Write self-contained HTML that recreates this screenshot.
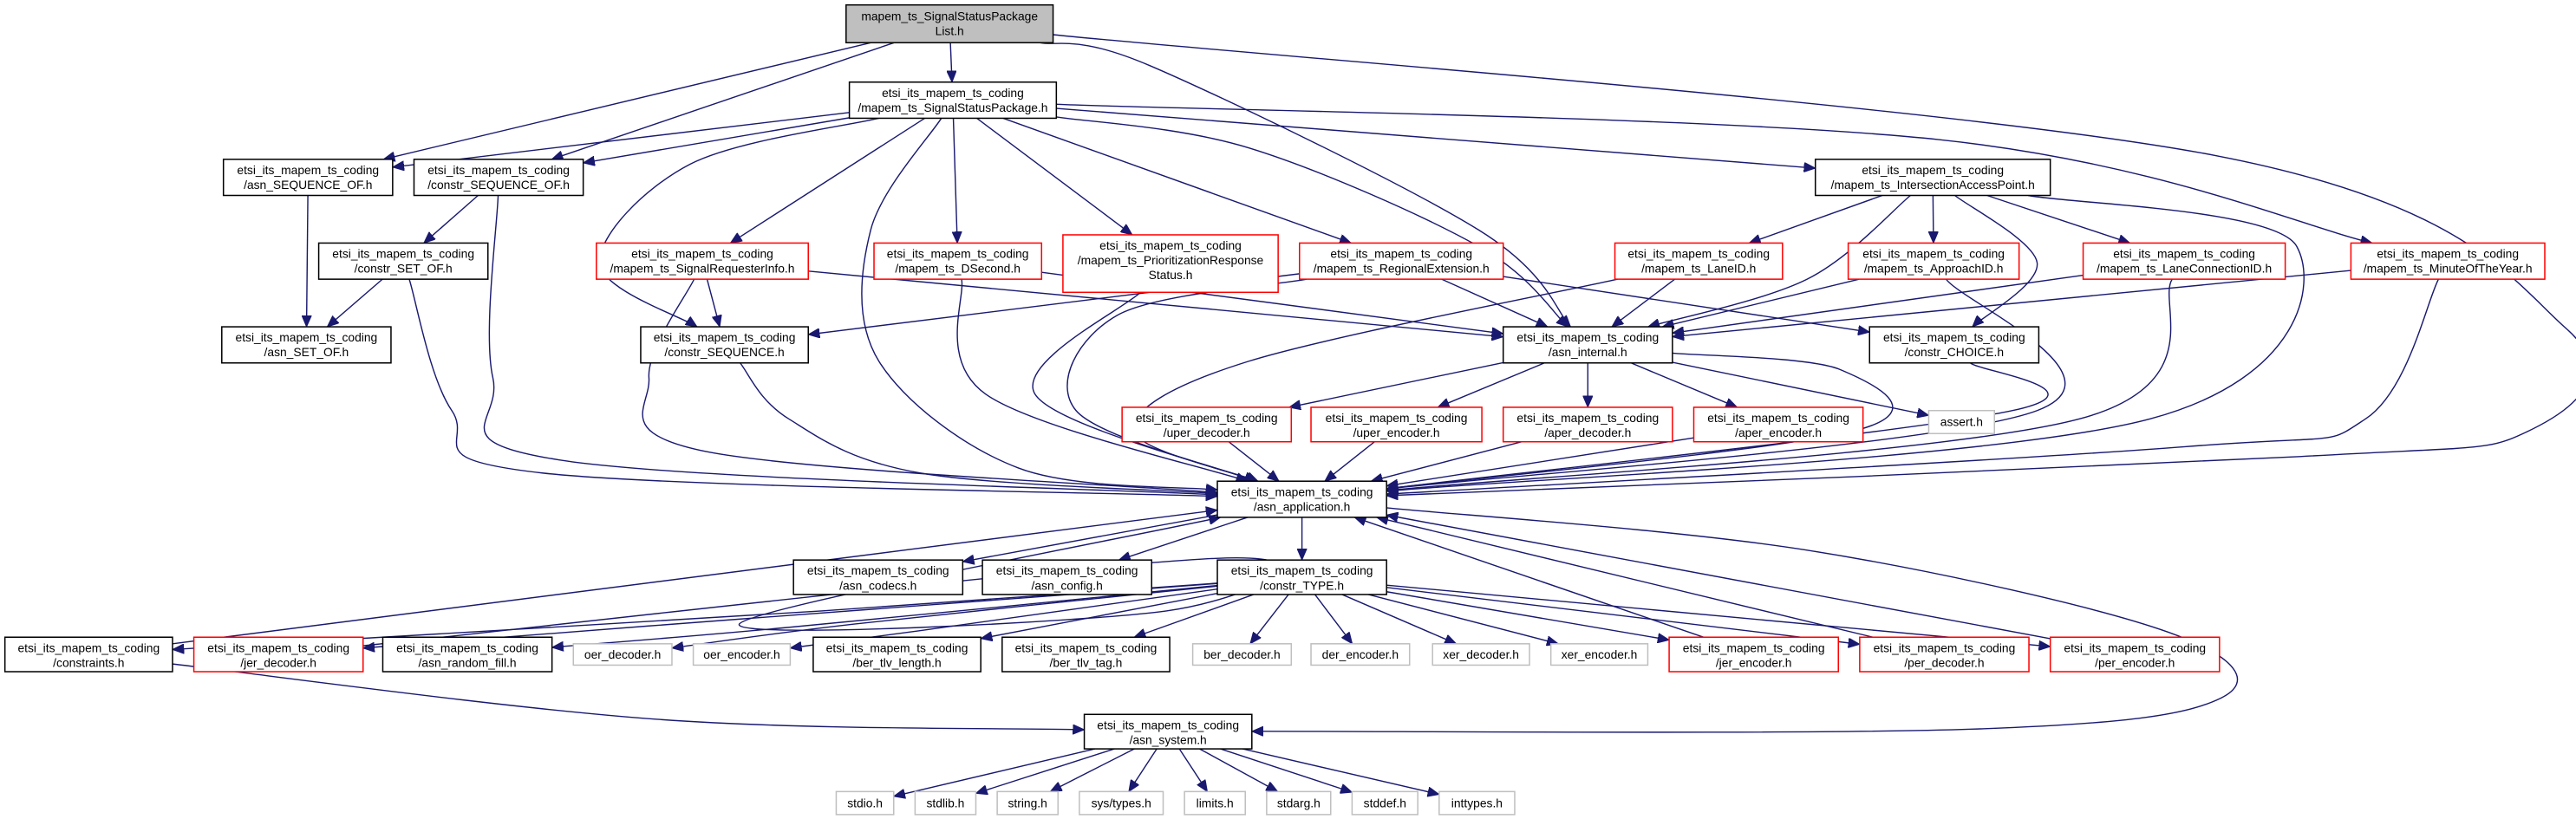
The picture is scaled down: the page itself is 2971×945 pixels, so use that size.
<!DOCTYPE html>
<html><head><meta charset="utf-8"><style>
html,body{margin:0;padding:0;background:#fff;}
svg{display:block;}
text{font-family:"Liberation Sans",sans-serif;font-size:7.3px;fill:#000;}
</style></head><body>
<svg id="g" width="2971" height="945" viewBox="0 0 1568 498.7" preserveAspectRatio="none" xmlns="http://www.w3.org/2000/svg">
<defs><marker id="ah" markerUnits="userSpaceOnUse" markerWidth="8" markerHeight="6" refX="7" refY="3" orient="auto"><path d="M0,0 L7,3 L0,6 z" fill="#191970" stroke="#191970" stroke-width="0.5"/></marker></defs>
<g id="edges"></g>
<g id="nodes" stroke-width="0.8">
<rect x="515" y="3" width="126" height="23" fill="#bfbfbf" stroke="#000"/>
<text x="578" y="12.5" text-anchor="middle">mapem_ts_SignalStatusPackage</text><text x="578" y="21.5" text-anchor="middle">List.h</text>

<rect x="517" y="50" width="126" height="22" fill="#fff" stroke="#000"/>
<text x="580" y="59" text-anchor="middle">etsi_its_mapem_ts_coding</text><text x="580" y="68" text-anchor="middle">/mapem_ts_SignalStatusPackage.h</text>

<rect x="136" y="97" width="103" height="22" fill="#fff" stroke="#000"/>
<text x="187.5" y="106" text-anchor="middle">etsi_its_mapem_ts_coding</text><text x="187.5" y="115" text-anchor="middle">/asn_SEQUENCE_OF.h</text>

<rect x="252" y="97" width="103" height="22" fill="#fff" stroke="#000"/>
<text x="303.5" y="106" text-anchor="middle">etsi_its_mapem_ts_coding</text><text x="303.5" y="115" text-anchor="middle">/constr_SEQUENCE_OF.h</text>

<rect x="194" y="148" width="103" height="22" fill="#fff" stroke="#000"/>
<text x="245.5" y="157" text-anchor="middle">etsi_its_mapem_ts_coding</text><text x="245.5" y="166" text-anchor="middle">/constr_SET_OF.h</text>

<rect x="135" y="199" width="103" height="22" fill="#fff" stroke="#000"/>
<text x="186.5" y="208" text-anchor="middle">etsi_its_mapem_ts_coding</text><text x="186.5" y="217" text-anchor="middle">/asn_SET_OF.h</text>

<rect x="363" y="148" width="129" height="22" fill="#fff" stroke="#f00"/>
<text x="427.5" y="157" text-anchor="middle">etsi_its_mapem_ts_coding</text><text x="427.5" y="166" text-anchor="middle">/mapem_ts_SignalRequesterInfo.h</text>

<rect x="532" y="148" width="102" height="22" fill="#fff" stroke="#f00"/>
<text x="583" y="157" text-anchor="middle">etsi_its_mapem_ts_coding</text><text x="583" y="166" text-anchor="middle">/mapem_ts_DSecond.h</text>

<rect x="647" y="143" width="131" height="35" fill="#fff" stroke="#f00"/>
<text x="712.5" y="152" text-anchor="middle">etsi_its_mapem_ts_coding</text><text x="712.5" y="161" text-anchor="middle">/mapem_ts_PrioritizationResponse</text><text x="712.5" y="170" text-anchor="middle">Status.h</text>

<rect x="791" y="148" width="124" height="22" fill="#fff" stroke="#f00"/>
<text x="853" y="157" text-anchor="middle">etsi_its_mapem_ts_coding</text><text x="853" y="166" text-anchor="middle">/mapem_ts_RegionalExtension.h</text>

<rect x="390" y="199" width="102" height="22" fill="#fff" stroke="#000"/>
<text x="441" y="208" text-anchor="middle">etsi_its_mapem_ts_coding</text><text x="441" y="217" text-anchor="middle">/constr_SEQUENCE.h</text>

<rect x="1105" y="97" width="143" height="22" fill="#fff" stroke="#000"/>
<text x="1176.5" y="106" text-anchor="middle">etsi_its_mapem_ts_coding</text><text x="1176.5" y="115" text-anchor="middle">/mapem_ts_IntersectionAccessPoint.h</text>

<rect x="983" y="148" width="102" height="22" fill="#fff" stroke="#f00"/>
<text x="1034" y="157" text-anchor="middle">etsi_its_mapem_ts_coding</text><text x="1034" y="166" text-anchor="middle">/mapem_ts_LaneID.h</text>

<rect x="1125" y="148" width="104" height="22" fill="#fff" stroke="#f00"/>
<text x="1177" y="157" text-anchor="middle">etsi_its_mapem_ts_coding</text><text x="1177" y="166" text-anchor="middle">/mapem_ts_ApproachID.h</text>

<rect x="1268" y="148" width="123" height="22" fill="#fff" stroke="#f00"/>
<text x="1329.5" y="157" text-anchor="middle">etsi_its_mapem_ts_coding</text><text x="1329.5" y="166" text-anchor="middle">/mapem_ts_LaneConnectionID.h</text>

<rect x="1431" y="148" width="118" height="22" fill="#fff" stroke="#f00"/>
<text x="1490" y="157" text-anchor="middle">etsi_its_mapem_ts_coding</text><text x="1490" y="166" text-anchor="middle">/mapem_ts_MinuteOfTheYear.h</text>

<rect x="915" y="199" width="103" height="22" fill="#fff" stroke="#000"/>
<text x="966.5" y="208" text-anchor="middle">etsi_its_mapem_ts_coding</text><text x="966.5" y="217" text-anchor="middle">/asn_internal.h</text>

<rect x="1138" y="199" width="103" height="22" fill="#fff" stroke="#000"/>
<text x="1189.5" y="208" text-anchor="middle">etsi_its_mapem_ts_coding</text><text x="1189.5" y="217" text-anchor="middle">/constr_CHOICE.h</text>

<rect x="683" y="248" width="103" height="21" fill="#fff" stroke="#f00"/>
<text x="734.5" y="257" text-anchor="middle">etsi_its_mapem_ts_coding</text><text x="734.5" y="266" text-anchor="middle">/uper_decoder.h</text>

<rect x="798" y="248" width="104" height="21" fill="#fff" stroke="#f00"/>
<text x="850" y="257" text-anchor="middle">etsi_its_mapem_ts_coding</text><text x="850" y="266" text-anchor="middle">/uper_encoder.h</text>

<rect x="915" y="248" width="103" height="21" fill="#fff" stroke="#f00"/>
<text x="966.5" y="257" text-anchor="middle">etsi_its_mapem_ts_coding</text><text x="966.5" y="266" text-anchor="middle">/aper_decoder.h</text>

<rect x="1031" y="248" width="103" height="21" fill="#fff" stroke="#f00"/>
<text x="1082.5" y="257" text-anchor="middle">etsi_its_mapem_ts_coding</text><text x="1082.5" y="266" text-anchor="middle">/aper_encoder.h</text>

<rect x="1174" y="250" width="40" height="14" fill="#fff" stroke="#bfbfbf"/>
<text x="1194" y="259.5" text-anchor="middle">assert.h</text>

<rect x="741" y="293" width="103" height="22" fill="#fff" stroke="#000"/>
<text x="792.5" y="302" text-anchor="middle">etsi_its_mapem_ts_coding</text><text x="792.5" y="311" text-anchor="middle">/asn_application.h</text>

<rect x="483" y="341" width="103" height="21" fill="#fff" stroke="#000"/>
<text x="534.5" y="350" text-anchor="middle">etsi_its_mapem_ts_coding</text><text x="534.5" y="359" text-anchor="middle">/asn_codecs.h</text>

<rect x="598" y="341" width="103" height="21" fill="#fff" stroke="#000"/>
<text x="649.5" y="350" text-anchor="middle">etsi_its_mapem_ts_coding</text><text x="649.5" y="359" text-anchor="middle">/asn_config.h</text>

<rect x="741" y="341" width="103" height="21" fill="#fff" stroke="#000"/>
<text x="792.5" y="350" text-anchor="middle">etsi_its_mapem_ts_coding</text><text x="792.5" y="359" text-anchor="middle">/constr_TYPE.h</text>

<rect x="3" y="388" width="102" height="21" fill="#fff" stroke="#000"/>
<text x="54" y="397" text-anchor="middle">etsi_its_mapem_ts_coding</text><text x="54" y="406" text-anchor="middle">/constraints.h</text>

<rect x="118" y="388" width="103" height="21" fill="#fff" stroke="#f00"/>
<text x="169.5" y="397" text-anchor="middle">etsi_its_mapem_ts_coding</text><text x="169.5" y="406" text-anchor="middle">/jer_decoder.h</text>

<rect x="233" y="388" width="103" height="21" fill="#fff" stroke="#000"/>
<text x="284.5" y="397" text-anchor="middle">etsi_its_mapem_ts_coding</text><text x="284.5" y="406" text-anchor="middle">/asn_random_fill.h</text>

<rect x="349" y="392" width="60" height="13" fill="#fff" stroke="#bfbfbf"/>
<text x="379" y="401" text-anchor="middle">oer_decoder.h</text>
<rect x="422" y="392" width="59" height="13" fill="#fff" stroke="#bfbfbf"/>
<text x="451.5" y="401" text-anchor="middle">oer_encoder.h</text>

<rect x="495" y="388" width="102" height="21" fill="#fff" stroke="#000"/>
<text x="546" y="397" text-anchor="middle">etsi_its_mapem_ts_coding</text><text x="546" y="406" text-anchor="middle">/ber_tlv_length.h</text>

<rect x="610" y="388" width="102" height="21" fill="#fff" stroke="#000"/>
<text x="661" y="397" text-anchor="middle">etsi_its_mapem_ts_coding</text><text x="661" y="406" text-anchor="middle">/ber_tlv_tag.h</text>

<rect x="726" y="392" width="60" height="13" fill="#fff" stroke="#bfbfbf"/>
<text x="756" y="401" text-anchor="middle">ber_decoder.h</text>
<rect x="798" y="392" width="60" height="13" fill="#fff" stroke="#bfbfbf"/>
<text x="828" y="401" text-anchor="middle">der_encoder.h</text>
<rect x="872" y="392" width="59" height="13" fill="#fff" stroke="#bfbfbf"/>
<text x="901.5" y="401" text-anchor="middle">xer_decoder.h</text>
<rect x="944" y="392" width="59" height="13" fill="#fff" stroke="#bfbfbf"/>
<text x="973.5" y="401" text-anchor="middle">xer_encoder.h</text>

<rect x="1016" y="388" width="103" height="21" fill="#fff" stroke="#f00"/>
<text x="1067.5" y="397" text-anchor="middle">etsi_its_mapem_ts_coding</text><text x="1067.5" y="406" text-anchor="middle">/jer_encoder.h</text>
<rect x="1132" y="388" width="103" height="21" fill="#fff" stroke="#f00"/>
<text x="1183.5" y="397" text-anchor="middle">etsi_its_mapem_ts_coding</text><text x="1183.5" y="406" text-anchor="middle">/per_decoder.h</text>
<rect x="1248" y="388" width="103" height="21" fill="#fff" stroke="#f00"/>
<text x="1299.5" y="397" text-anchor="middle">etsi_its_mapem_ts_coding</text><text x="1299.5" y="406" text-anchor="middle">/per_encoder.h</text>

<rect x="660" y="435" width="102" height="21" fill="#fff" stroke="#000"/>
<text x="711" y="444" text-anchor="middle">etsi_its_mapem_ts_coding</text><text x="711" y="453" text-anchor="middle">/asn_system.h</text>

<rect x="509" y="482" width="35" height="14" fill="#fff" stroke="#bfbfbf"/><text x="526.5" y="491.5" text-anchor="middle">stdio.h</text>
<rect x="557" y="482" width="37" height="14" fill="#fff" stroke="#bfbfbf"/><text x="575.5" y="491.5" text-anchor="middle">stdlib.h</text>
<rect x="607" y="482" width="37" height="14" fill="#fff" stroke="#bfbfbf"/><text x="625.5" y="491.5" text-anchor="middle">string.h</text>
<rect x="657" y="482" width="51" height="14" fill="#fff" stroke="#bfbfbf"/><text x="682.5" y="491.5" text-anchor="middle">sys/types.h</text>
<rect x="721" y="482" width="37" height="14" fill="#fff" stroke="#bfbfbf"/><text x="739.5" y="491.5" text-anchor="middle">limits.h</text>
<rect x="771" y="482" width="39" height="14" fill="#fff" stroke="#bfbfbf"/><text x="790.5" y="491.5" text-anchor="middle">stdarg.h</text>
<rect x="823" y="482" width="40" height="14" fill="#fff" stroke="#bfbfbf"/><text x="843" y="491.5" text-anchor="middle">stddef.h</text>
<rect x="876" y="482" width="46" height="14" fill="#fff" stroke="#bfbfbf"/><text x="899" y="491.5" text-anchor="middle">inttypes.h</text>
</g>
</svg>
<script>
var N={
root:[515,3,641,26],ssp:[517,50,643,72],aso:[136,97,239,119],cso:[252,97,355,119],cset:[194,148,297,170],aset:[135,199,238,221],
sri:[363,148,492,170],dsec:[532,148,634,170],prio:[647,143,778,178],reg:[791,148,915,170],cseq:[390,199,492,221],
iap:[1105,97,1248,119],lane:[983,148,1085,170],appr:[1125,148,1229,170],lcon:[1268,148,1391,170],moy:[1431,148,1549,170],
ai:[915,199,1018,221],cch:[1138,199,1241,221],ud:[683,248,786,269],ue:[798,248,902,269],ad:[915,248,1018,269],ae:[1031,248,1134,269],
as:[1174,250,1214,264],app:[741,293,844,315],codecs:[483,341,586,362],cfg:[598,341,701,362],ct:[741,341,844,362],
cons:[3,388,105,409],jd:[118,388,221,409],rf:[233,388,336,409],od:[349,392,409,405],oe:[422,392,481,405],btl:[495,388,597,409],
btt:[610,388,712,409],bd:[726,392,786,405],de:[798,392,858,405],xd:[872,392,931,405],xe:[944,392,1003,405],je:[1016,388,1119,409],
pd:[1132,388,1235,409],pe:[1248,388,1351,409],sys:[660,435,762,456],
s1:[509,482,544,496],s2:[557,482,594,496],s3:[607,482,644,496],s4:[657,482,708,496],s5:[721,482,758,496],s6:[771,482,810,496],s7:[823,482,863,496],s8:[876,482,922,496]};
var E=[
['root','aso'],['root','cso'],['root','ssp'],['root','ai',[[700,40],[900,140]]],['root','app',[[1350,95],[1562,200],[1540,262],[1400,278]]],
['ssp','aso'],['ssp','cso'],['ssp','cseq',[[420,100],[365,160]]],['ssp','sri'],['ssp','app',[[530,140],[535,220],[620,285]]],
['ssp','dsec'],['ssp','prio'],['ssp','reg'],['ssp','ai',[[760,90],[900,150]]],['ssp','iap'],['ssp','moy',[[1180,85]]],
['aso','aset'],['cso','cset'],['cso','app',[[300,230],[340,280]]],['cset','aset'],['cset','app',[[275,250],[330,288]]],
['sri','cseq'],['sri','app',[[395,230],[430,275]]],['sri','ai'],['dsec','app',[[600,240]]],['dsec','ai'],['prio','app',[[630,240]]],
['reg','cseq'],['reg','ai'],['reg','app',[[680,192],[655,250]]],['reg','cch'],
['iap','lane'],['iap','appr'],['iap','lcon'],['iap','ai',[[1100,170]]],['iap','cch',[[1240,160]]],['iap','app',[[1398,150],[1309,255]]],
['lane','ai'],['lane','app',[[760,220],[690,262]]],['appr','ai'],['appr','app',[[1240,250]]],['lcon','ai'],['lcon','app',[[1266,255]]],
['moy','ai'],['moy','app',[[1440,255],[1330,272]]],['cseq','app',[[480,255],[560,288]]],['cch','app',[[1225,250]]],
['ai','ud'],['ai','ue'],['ai','ad'],['ai','ae'],['ai','as'],['ai','app',[[1120,225],[1130,262]]],
['ud','app'],['ue','app'],['ad','app'],['ae','app'],
['app','codecs'],['app','cfg'],['app','ct'],['app','sys',[[1100,335],[1320,385],[1352,425],[1200,444]]],
['cons','app'],['cons','sys',[[400,438]]],
['ct','cons',[[500,372]]],['ct','jd',[[450,377]]],['ct','rf',[[480,382]]],['ct','od',[[520,380]]],['ct','oe',[[560,384]]],
['ct','btl'],['ct','btt'],['ct','bd'],['ct','de'],['ct','xd'],['ct','xe'],['ct','je'],['ct','pd'],['ct','pe'],
['jd','app',[[740,340],[710,372],[450,380]]],['je','app'],['pd','app'],['pe','app'],
['sys','s1'],['sys','s2'],['sys','s3'],['sys','s4'],['sys','s5'],['sys','s6'],['sys','s7'],['sys','s8']];
function clip(b,p){var cx=(b[0]+b[2])/2,cy=(b[1]+b[3])/2,dx=p[0]-cx,dy=p[1]-cy,hw=(b[2]-b[0])/2,hh=(b[3]-b[1])/2;
var t=1/Math.max(Math.abs(dx)/hw,Math.abs(dy)/hh,1e-9);return [cx+dx*t,cy+dy*t];}
function ctr(b){return [(b[0]+b[2])/2,(b[1]+b[3])/2];}
var out='';
E.forEach(function(e){var a=N[e[0]],b=N[e[1]],v=e[2]||[];
var p0=clip(a,v.length?v[0]:ctr(b)),pn=clip(b,v.length?v[v.length-1]:ctr(a));
var pts=[p0].concat(v,[pn]),d='M'+p0[0].toFixed(1)+','+p0[1].toFixed(1);
if(pts.length==2){d+=' L'+pn[0].toFixed(1)+','+pn[1].toFixed(1);}
else{for(var i=0;i<pts.length-1;i++){var P0=pts[Math.max(i-1,0)],P1=pts[i],P2=pts[i+1],P3=pts[Math.min(i+2,pts.length-1)];
var c1=[P1[0]+(P2[0]-P0[0])/6,P1[1]+(P2[1]-P0[1])/6],c2=[P2[0]-(P3[0]-P1[0])/6,P2[1]-(P3[1]-P1[1])/6];
d+=' C'+c1[0].toFixed(1)+','+c1[1].toFixed(1)+' '+c2[0].toFixed(1)+','+c2[1].toFixed(1)+' '+P2[0].toFixed(1)+','+P2[1].toFixed(1);}}
out+='<path d="'+d+'" fill="none" stroke="#191970" stroke-width="0.75" marker-end="url(#ah)"/>';});
document.getElementById('edges').innerHTML=out;
</script>
</body></html>
